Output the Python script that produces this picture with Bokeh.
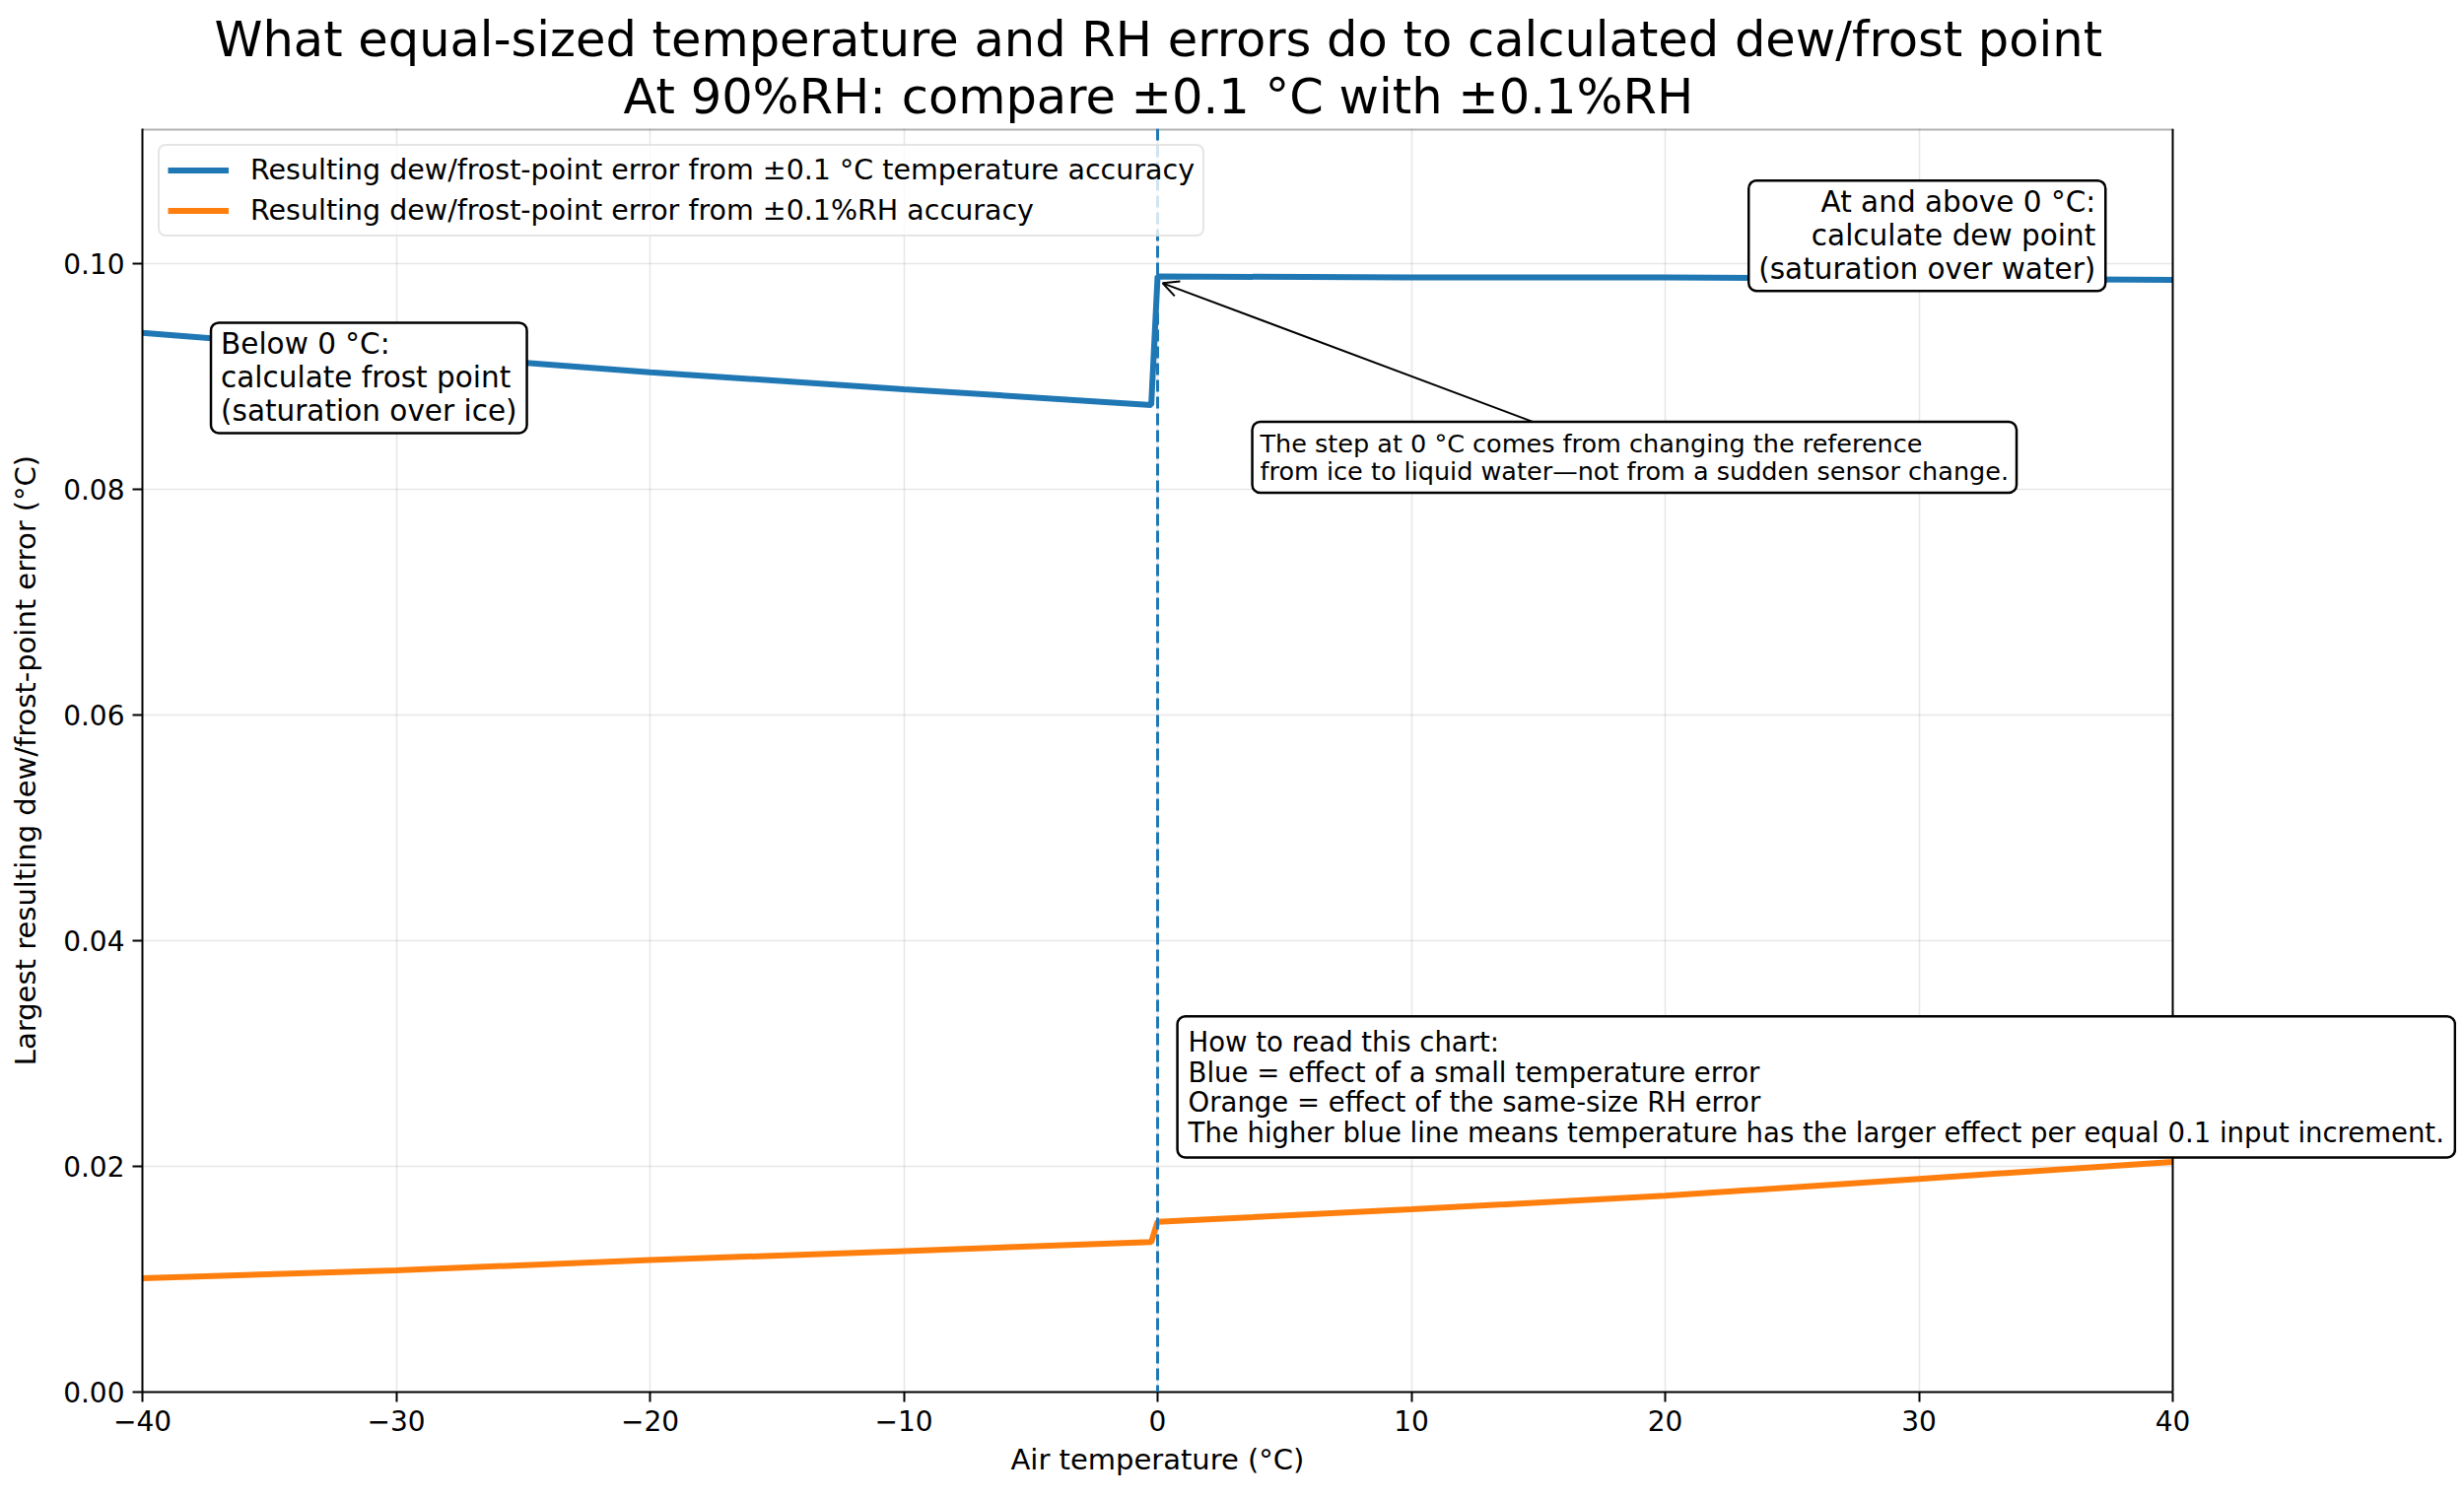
from bokeh.plotting import figure
from bokeh.models import (Label, Arrow, OpenHead, Span, FixedTicker, Range1d, Title,
                          BoxAnnotation)
from bokeh.embed import file_html
from bokeh.resources import INLINE

# air temperature (deg C) and the resulting dew/frost-point error (deg C)
temps = [-40, -30, -20, -10, -0.25, 0, 10, 20, 30, 40]
err_from_temp = [0.0939, 0.0921, 0.0904, 0.0889, 0.0875, 0.0989, 0.0988, 0.0988, 0.0987, 0.0986]
err_from_rh = [0.0101, 0.0108, 0.0117, 0.0125, 0.0133, 0.0151, 0.0162, 0.0174, 0.0189, 0.0204]

x_ticks = [-40, -30, -20, -10, 0, 10, 20, 30, 40]
x_tick_labels = ["\u221240", "\u221230", "\u221220", "\u221210", "0", "10", "20", "30", "40"]
y_ticks = [0.0, 0.02, 0.04, 0.06, 0.08, 0.10]
y_tick_labels = ["0.00", "0.02", "0.04", "0.06", "0.08", "0.10"]

title_line1 = "What equal-sized temperature and RH errors do to calculated dew/frost point"
title_line2 = "At 90%RH: compare \u00b10.1 \u00b0C with \u00b10.1%RH"
label_temp = "Resulting dew/frost-point error from \u00b10.1 \u00b0C temperature accuracy"
label_rh = "Resulting dew/frost-point error from \u00b10.1%RH accuracy"
x_label = "Air temperature (\u00b0C)"
y_label = "Largest resulting dew/frost-point error (\u00b0C)"

FONT = "DejaVu Sans"

# layout in pixels: the axes box is 2060 px wide, but the canvas frame runs to the
# right edge so that the "how to read" note can hang outside the axes box
W, H = 2492, 1510
LEFT, AX_W, BOTTOM = 144, 2060, 98
X0, X1 = -40, 40
x_end = X1 + (W - LEFT - AX_W) * (X1 - X0) / AX_W

p = figure(
    width=W, height=H,
    x_range=Range1d(X0, x_end), y_range=Range1d(0, 0.112),
    output_backend="svg", toolbar_location=None,
    min_border_left=LEFT, min_border_right=0,
    min_border_top=130, min_border_bottom=BOTTOM,
    title=None,
)

# two title lines, placed to sit centred over the axes box (first added is nearest the frame)
for txt, off, so in ((title_line2, 488, 7), (title_line1, 73, -10)):
    p.add_layout(Title(text=txt, align="left", offset=off, text_font=FONT,
                       text_font_size="49.5px", text_font_style="normal",
                       text_color="black", standoff=so), "above")

p.outline_line_color = None

# grid
for g in (p.xgrid, p.ygrid):
    g.grid_line_color = "#b0b0b0"
    g.grid_line_alpha = 0.3
    g.grid_line_width = 1.5

# hide the grid beyond the axes box
p.add_layout(BoxAnnotation(left=X1, fill_color="white", fill_alpha=1.0,
                           line_color=None, level="underlay"))

# axes
p.xaxis.ticker = FixedTicker(ticks=x_ticks)
p.yaxis.ticker = FixedTicker(ticks=y_ticks)
p.xaxis.bounds = (X0, X1)
p.xaxis.major_label_overrides = dict(zip(x_ticks, x_tick_labels))
p.yaxis.major_label_overrides = dict(zip(y_ticks, y_tick_labels))
p.yaxis.axis_label = y_label
for ax in (p.xaxis, p.yaxis):
    ax.axis_line_color = "black"
    ax.axis_line_width = 2
    ax.major_tick_line_color = "black"
    ax.major_tick_line_width = 2
    ax.major_tick_out = 10
    ax.major_tick_in = 0
    ax.minor_tick_line_color = None
    ax.major_label_text_font = FONT
    ax.major_label_text_font_size = "28px"
    ax.major_label_text_color = "black"
    ax.axis_label_text_font = FONT
    ax.axis_label_text_font_size = "29px"
    ax.axis_label_text_font_style = "normal"
    ax.axis_label_text_color = "black"
    ax.major_label_standoff = 8
p.yaxis.axis_label_standoff = 18

# x label as a title below the axis, centred under the axes box
p.add_layout(Title(text=x_label, align="left", offset=881, text_font=FONT,
                   text_font_size="29px", text_font_style="normal",
                   text_color="black", standoff=14), "below")

# right and top edges of the axes box
p.add_layout(Span(location=X1, dimension="height", line_color="black", line_width=2))
p.add_layout(BoxAnnotation(left=X0, right=X1, bottom=0.112, fill_alpha=0,
                           line_color="black", line_width=4))

# 0 deg C reference line
p.add_layout(Span(location=0, dimension="height", line_color="#1f77b4",
                  line_width=3, line_dash="12 5"))

p.line(temps, err_from_temp, line_color="#1f77b4", line_width=6, legend_label=label_temp)
p.line(temps, err_from_rh, line_color="#ff7f0e", line_width=6, legend_label=label_rh)

p.legend.location = "top_left"
p.legend.margin = 16
p.legend.padding = 8
p.legend.spacing = 8
p.legend.label_height = 33
p.legend.glyph_height = 33
p.legend.glyph_width = 62
p.legend.label_standoff = 22
p.legend.label_text_font = FONT
p.legend.label_text_font_size = "28.5px"
p.legend.label_text_color = "black"
p.legend.border_line_color = "#cccccc"
p.legend.border_line_width = 2
p.legend.border_radius = 8
p.legend.background_fill_alpha = 0.8


def note(x, y, text, align="left", size="29.5px", pad=(10, 5), lh=1.0):
    lab = Label(x=x, y=y, text=text, text_align=align, text_baseline="top",
                text_font=FONT, text_font_size=size, text_color="black",
                text_line_height=lh,
                border_line_color="black", border_line_width=2.5,
                background_fill_color="white", background_fill_alpha=1.0,
                padding=dict(left=pad[0], right=pad[0], top=pad[1], bottom=pad[1]),
                border_radius=8, level="overlay")
    p.add_layout(lab)


note(-37.3, 0.0948, "Below 0 \u00b0C:\ncalculate frost point\n(saturation over ice)")
note(37.35, 0.1074, "At and above 0 \u00b0C:\ncalculate dew point\n(saturation over water)", align="right")
note(3.73, 0.0860, "The step at 0 \u00b0C comes from changing the reference\n"
     "from ice to liquid water\u2014not from a sudden sensor change.", size="25.5px", pad=(8, 7), lh=0.93)
note(0.78, 0.0333, "How to read this chart:\n"
     "Blue = effect of a small temperature error\n"
     "Orange = effect of the same-size RH error\n"
     "The higher blue line means temperature has the larger effect per equal 0.1 input increment.",
     size="27.5px", pad=(11, 10), lh=0.95)

p.add_layout(Arrow(end=OpenHead(size=16, line_color="black", line_width=2),
                   x_start=14.8, y_start=0.0860, x_end=0.2, y_end=0.0983,
                   line_color="black", line_width=2))

open("out.html", "w").write(file_html(p, INLINE))
